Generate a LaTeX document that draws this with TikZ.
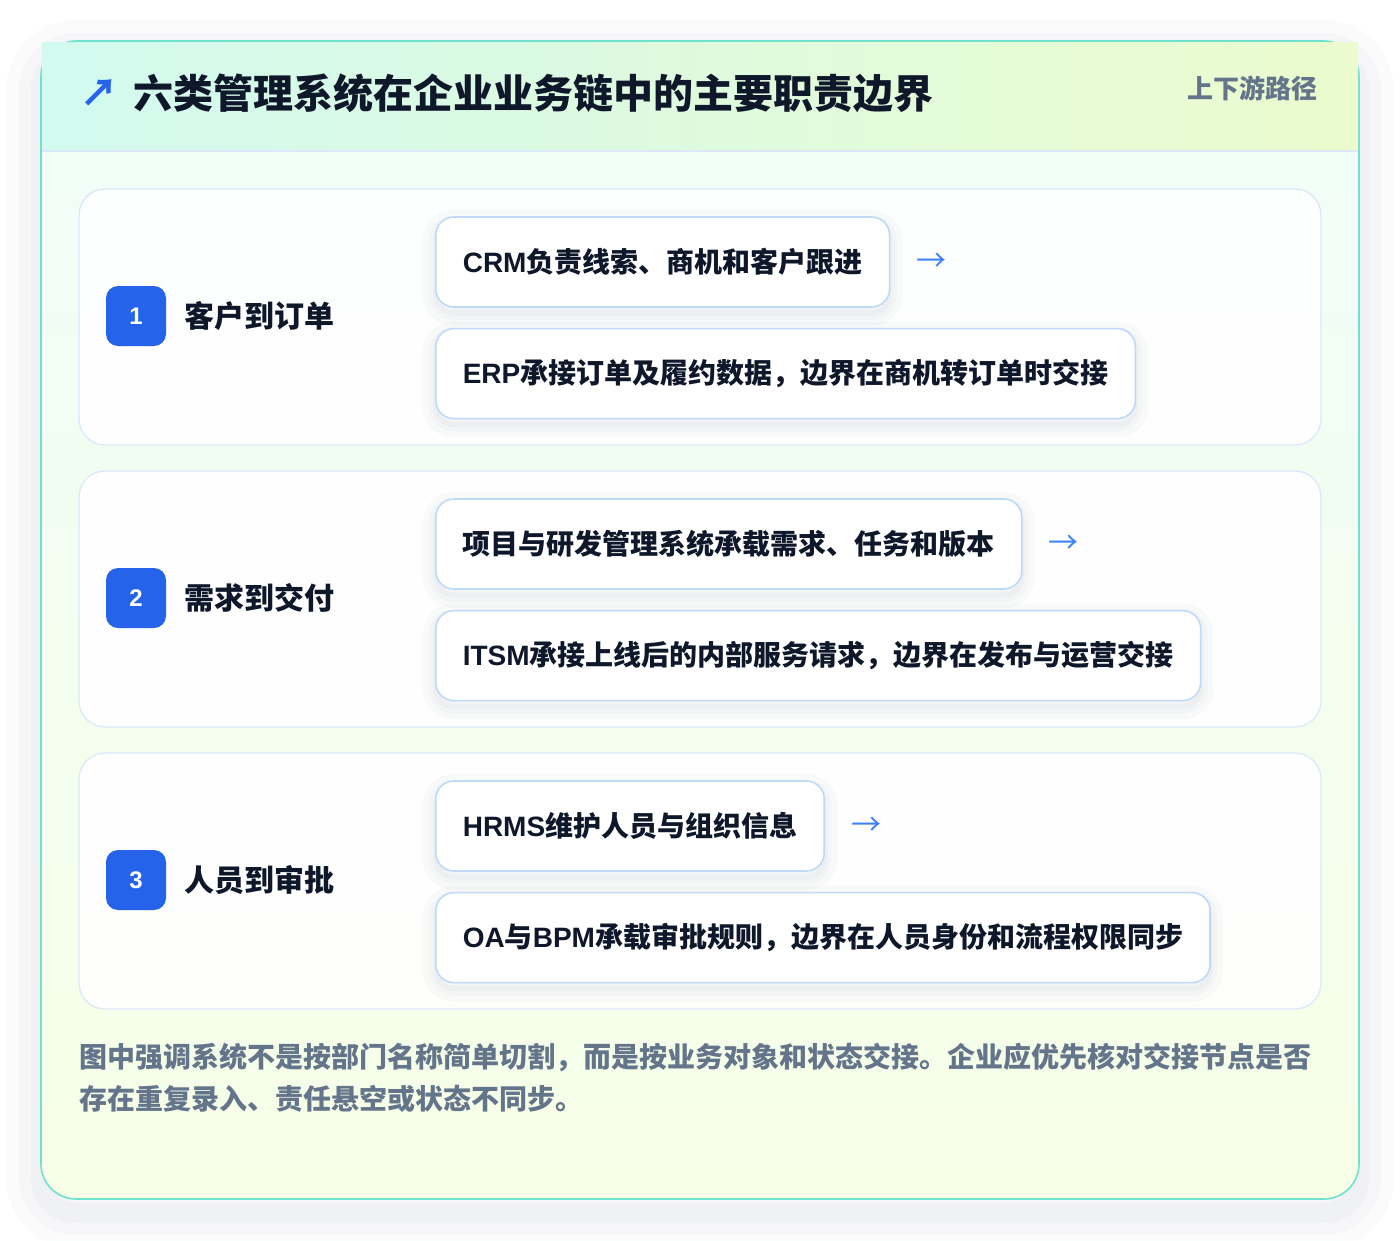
\documentclass[tikz,border=0pt]{standalone}
\usepackage{fontspec}
\setmainfont{Noto Sans CJK SC}
\newfontfamily\en{Liberation Sans}
\usetikzlibrary{positioning}
\definecolor{ink}{HTML}{0F172A}
\definecolor{slate}{HTML}{64748B}
\definecolor{badgeblue}{HTML}{2563EB}
\definecolor{arrowblue}{HTML}{3B82F6}
\definecolor{cardline}{HTML}{6EE2CD}
\definecolor{headleft}{HTML}{D2FAEF}
\definecolor{headright}{HTML}{EBFBCD}
\definecolor{bodytop}{HTML}{F0FDF9}
\definecolor{bodybot}{HTML}{F6FEE6}
\definecolor{panelline}{HTML}{DCE8FA}
\definecolor{itemline}{HTML}{BFD9F8}
\definecolor{shade}{HTML}{64748B}
\tikzstyle{card} = [rectangle, rounded corners=35pt, draw=cardline, line width=1.6pt, top color=bodytop, bottom color=bodybot, minimum width=1318pt, minimum height=1158pt,
  preaction={draw=shade, draw opacity=0.025, line width=70pt, transform canvas={yshift=-14pt}},
  preaction={draw=shade, draw opacity=0.03, line width=44pt, transform canvas={yshift=-14pt}},
  preaction={draw=shade, draw opacity=0.035, line width=20pt, transform canvas={yshift=-14pt}}]
\tikzstyle{panel} = [rectangle, rounded corners=26pt, draw=panelline, line width=1.3pt, fill=white, fill opacity=0.9, draw opacity=1, minimum width=1242pt, minimum height=256pt]
\tikzstyle{itembox} = [rectangle, rounded corners=18pt, draw=itemline, line width=1.6pt, fill=white, minimum height=90pt, inner xsep=27pt, text=ink, font=\fontsize{28}{34}\selectfont\bfseries,
  preaction={draw=shade, draw opacity=0.03, line width=26pt, transform canvas={yshift=-6pt}},
  preaction={draw=shade, draw opacity=0.035, line width=14pt, transform canvas={yshift=-6pt}},
  preaction={draw=shade, draw opacity=0.04, line width=5pt, transform canvas={yshift=-6pt}}]
\tikzstyle{badge} = [rectangle, rounded corners=12pt, fill=badgeblue, minimum size=60pt, text=white, font=\en\fontsize{24}{26}\selectfont\bfseries]
\tikzstyle{rowlabel} = [text=ink, font=\fontsize{30}{36}\selectfont\bfseries, inner sep=0pt]
\tikzstyle{handoff} = [text=arrowblue, font=\fontsize{30}{30}\selectfont, inner sep=0pt]

\begin{document}
\begin{tikzpicture}[x=1pt, y=-1pt]

\useasboundingbox (0,0) rectangle (1400,1240);
\fill [white] (0,0) rectangle (1400,1240);

\node (card) [card] at (700,620) {};
\fill [left color=headleft, right color=headright] (42,42) rectangle (1358,151);
\draw [panelline, line width=1.3pt] (42,151) -- (1358,151);

\node (ticon) [text=badgeblue, inner sep=0pt, font=\fontsize{38}{40}\selectfont\bfseries] at (99,93) {↗};
\node (title) [anchor=west, inner sep=0pt, text=ink, font=\fontsize{40}{48}\selectfont\bfseries] at (133,93) {六类管理系统在企业业务链中的主要职责边界};
\node (tag) [anchor=east, inner sep=0pt, text=slate, font=\fontsize{26}{30}\selectfont\bfseries] at (1318,88) {上下游路径};

% row 1
\node (row1) [panel] at (700,317) {};
\node (badge1) [badge] at (136,316) {1};
\node (label1) [rowlabel, right=18pt of badge1] {客户到订单};
\node (crm) [itembox, anchor=west] at (435,262) {{\en CRM}负责线索、商机和客户跟进};
\node (erp) [itembox, below=20pt of crm.south west, anchor=north west] {{\en ERP}承接订单及履约数据，边界在商机转订单时交接};
\node (arr1) [handoff, right=26pt of crm] {→};

% row 2
\node (row2) [panel] at (700,599) {};
\node (badge2) [badge] at (136,598) {2};
\node (label2) [rowlabel, right=18pt of badge2] {需求到交付};
\node (pm) [itembox, anchor=west] at (435,544) {项目与研发管理系统承载需求、任务和版本};
\node (itsm) [itembox, below=20pt of pm.south west, anchor=north west] {{\en ITSM}承接上线后的内部服务请求，边界在发布与运营交接};
\node (arr2) [handoff, right=26pt of pm] {→};

% row 3
\node (row3) [panel] at (700,881) {};
\node (badge3) [badge] at (136,880) {3};
\node (label3) [rowlabel, right=18pt of badge3] {人员到审批};
\node (hrms) [itembox, anchor=west] at (435,826) {{\en HRMS}维护人员与组织信息};
\node (oa) [itembox, below=20pt of hrms.south west, anchor=north west] {{\en OA}与{\en BPM}承载审批规则，边界在人员身份和流程权限同步};
\node (arr3) [handoff, right=26pt of hrms] {→};

\node (note) [anchor=north west, align=left, inner sep=0pt, text=slate, font=\fontsize{28}{42}\selectfont\bfseries] at (79,1043) {图中强调系统不是按部门名称简单切割，而是按业务对象和状态交接。企业应优先核对交接节点是否\\存在重复录入、责任悬空或状态不同步。};

\end{tikzpicture}
\end{document}
